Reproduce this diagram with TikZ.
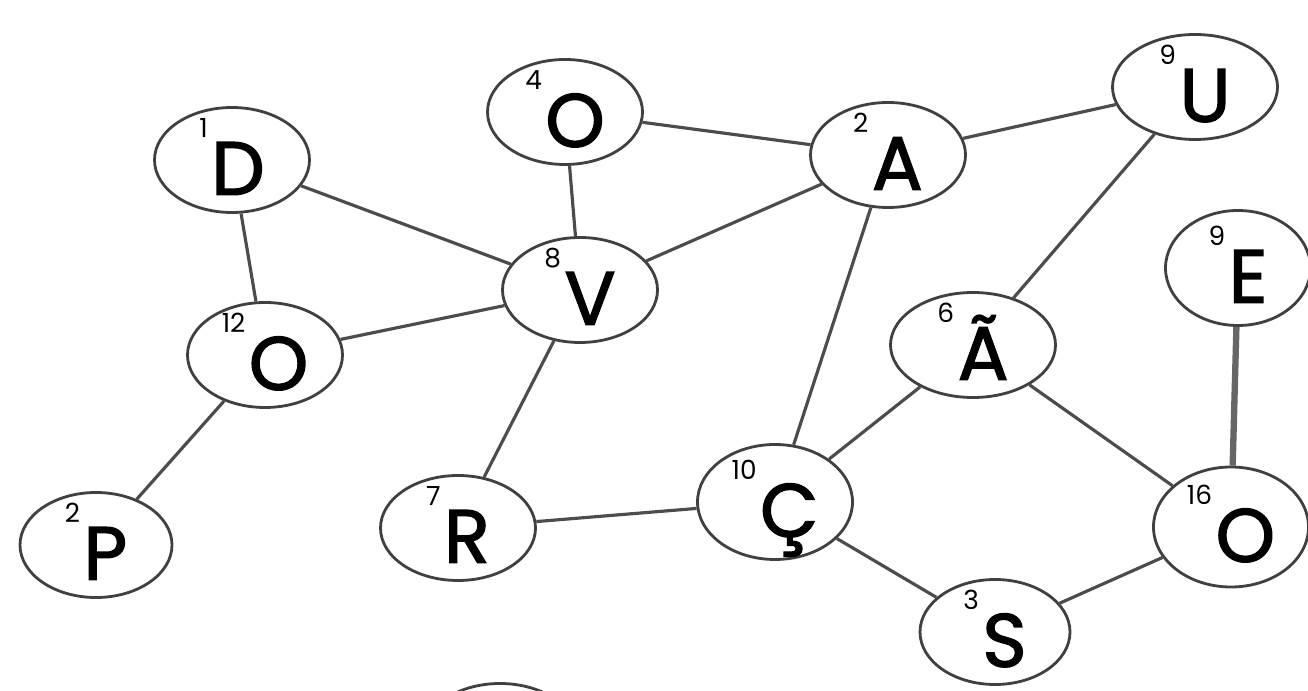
\documentclass[tikz,border=0pt]{standalone}
\usepackage{fontspec}
\setmainfont{Poppins}
\newfontfamily\letterfont[FakeBold=1.8]{Poppins}
\usetikzlibrary{shapes.geometric}

\newcommand{\sletter}[2]{\raisebox{6.3pt}[0pt][0pt]{\fontsize{7.5}{8}\selectfont #1}\hspace{1pt}\raisebox{-9.9pt}[0pt][0pt]{\letterfont #2}}

\tikzset{
  letter/.style={draw=black!75, line width=0.8pt, ellipse, minimum width=1.55cm,
    minimum height=1.05cm, inner sep=0pt, font=\fontsize{21.5}{22}\selectfont},
  link/.style={draw=black!70, line width=0.9pt}
}

\begin{document}
\begin{tikzpicture}[scale=1.0]

    \useasboundingbox (0,0) rectangle (13.08,6.9);

    \node[letter] (d) at (2.32,5.30) {\sletter{1}{D}};
    \node[letter] (otop) at (5.65,5.78) {\sletter{4}{O}};
    \node[letter] (a) at (8.88,5.35) {\sletter{2}{A}};
    \node[letter, minimum width=1.65cm] (u) at (11.95,6.03) {\sletter{9}{U}};
    \node[letter] (v) at (5.80,4.00) {\sletter{8}{V}};
    \node[letter] (oleft) at (2.65,3.35) {\sletter{12}{O}};
    \node[letter, minimum width=1.45cm, minimum height=1.15cm] (e) at (12.38,4.22) {\sletter{9}{E}};
    \node[letter, minimum width=1.65cm] (atil) at (9.73,3.45) {\sletter{6}{Ã}};
    \node[letter, minimum height=1.15cm] (cced) at (7.75,1.88) {\sletter{10}{Ç}};
    \node[letter] (r) at (4.58,1.62) {\sletter{7}{R}};
    \node[letter, minimum width=1.52cm] (p) at (0.96,1.45) {\sletter{2}{P}};
    \node[letter, minimum height=1.2cm] (oright) at (12.31,1.63) {\sletter{16}{O}};
    \node[letter, minimum width=1.5cm] (s) at (9.95,0.58) {\sletter{3}{S}};

    % cut off at the bottom
    \node[letter] (cut) at (5.00,-0.46) {};

    \draw[link] (d) -- (v);
    \draw[link] (d) -- (oleft);
    \draw[link] (otop) -- (a);
    \draw[link] (otop) -- (v);
    \draw[link] (a) -- (v);
    \draw[link] (a) -- (u);
    \draw[link] (a) -- (cced);
    \draw[link] (u) -- (atil);
    \draw[link] (v) -- (oleft);
    \draw[link] (v) -- (r);
    \draw[link] (oleft) -- (p);
    \draw[link] (r) -- (cced);
    \draw[link] (cced) -- (atil);
    \draw[link] (cced) -- (s);
    \draw[link] (atil) -- (oright);
    \draw[link, draw=black!60, line width=1.8pt] (e) -- (oright);
    \draw[link] (s) -- (oright);

\end{tikzpicture}
\end{document}
